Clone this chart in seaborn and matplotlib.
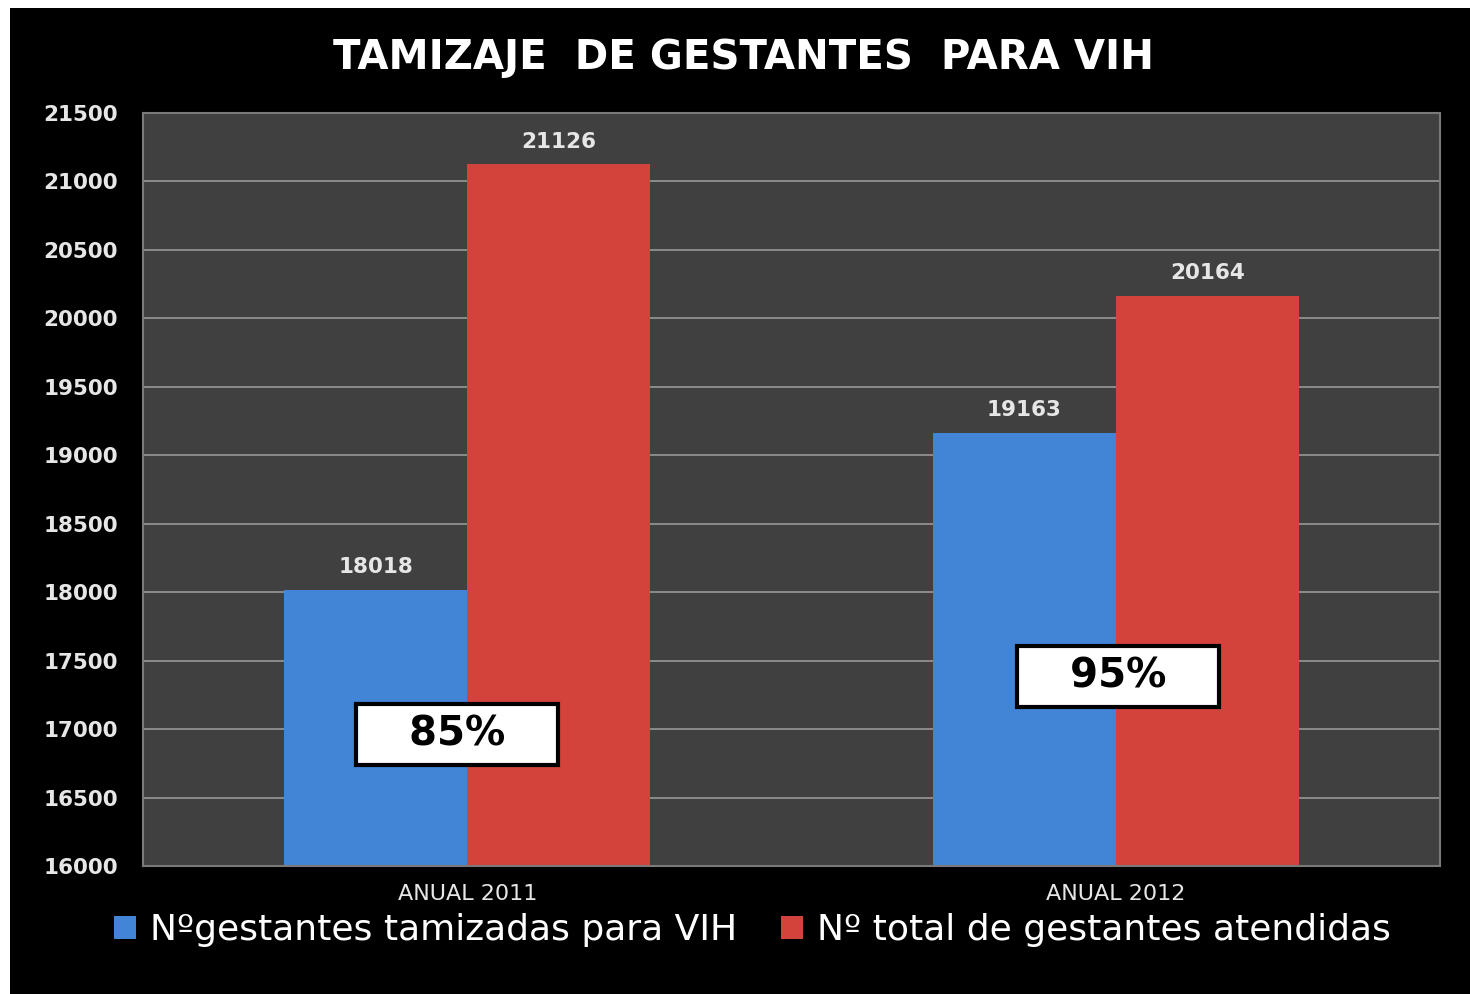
import matplotlib
matplotlib.use("Agg")
import matplotlib.pyplot as plt
from matplotlib.patches import Rectangle
import seaborn as sns
import pandas as pd

categories = ["ANUAL 2011", "ANUAL 2012"]
series_names = ["Nºgestantes tamizadas para VIH", "Nº total de gestantes atendidas"]
tamizadas = [18018, 19163]
atendidas = [21126, 20164]
percent_labels = ["85%", "95%"]
percent_x = [-0.016, 1.003]
percent_y = [16960, 17385]
y_ticks = [16000, 16500, 17000, 17500, 18000, 18500, 19000, 19500, 20000, 20500, 21000, 21500]

colors = ["#4284D6", "#D4423C"]

df = pd.DataFrame({
    "cat": categories * 2,
    "serie": [series_names[0]] * 2 + [series_names[1]] * 2,
    "val": tamizadas + atendidas,
})

sns.set_theme(style="dark")
plt.rcParams['font.family'] = ['DejaVu Sans']

fig = plt.figure(figsize=(14.7, 9.94), dpi=100, facecolor="black")
ax = fig.add_axes([143 / 1470, 1 - 866 / 994, (1440 - 143) / 1470, (866 - 113) / 994])
ax.set_facecolor("#404040")

sns.barplot(data=df, x="cat", y="val", hue="serie", palette=colors, saturation=1,
            width=0.565, ax=ax, legend=False, edgecolor="none")

ax.set_ylim(16000, 21500)
ax.set_xlim(-0.5, 1.5)
ax.set_yticks(y_ticks)
ax.set_yticklabels([str(t) for t in y_ticks], fontsize=15.5,
                   fontweight="bold", color="#E6E6E6")
ax.yaxis.grid(True, color="#8C8C8C", linewidth=1.4)
ax.xaxis.grid(False)
ax.set_axisbelow(True)
ax.tick_params(axis="y", length=0, pad=18)
ax.tick_params(axis="x", length=0, pad=13)
for lab in ax.get_xticklabels():
    lab.set_color("#E6E6E6")
    lab.set_fontsize(16)
ax.set_xlabel("")
ax.set_ylabel("")
for s in ax.spines.values():
    s.set_color("#7A7A7A")
    s.set_linewidth(1.5)

for cont in ax.containers:
    ax.bar_label(cont, padding=9, color="#E6E6E6", fontsize=15.5, fontweight="bold")

for x, yv, txt in zip(percent_x, percent_y, percent_labels):
    ax.text(x, yv, "   " + txt + "   ", ha="center", va="center", fontsize=29,
            fontweight="bold", color="black",
            bbox=dict(boxstyle="square,pad=0.27", facecolor="white", edgecolor="black",
                      linewidth=3))

fig.text(0.506, 1 - 58 / 994, "TAMIZAJE  DE GESTANTES  PARA VIH", ha="center", va="center",
         fontsize=29, fontweight="bold", color="white")

handles = [Rectangle((0, 0), 1, 1, facecolor=c, edgecolor="none") for c in colors]
leg = fig.legend(handles, series_names, loc="center", bbox_to_anchor=(0.512, 1 - 930 / 994),
                 ncol=2, frameon=False, fontsize=26, handlelength=0.6, handleheight=0.6,
                 handletextpad=0.4, columnspacing=1.2)
for t in leg.get_texts():
    t.set_color("white")

# white strips from the screenshot edges
fig.add_artist(Rectangle((0, 1 - 8 / 994), 1, 8 / 994, transform=fig.transFigure,
                         facecolor="white", edgecolor="none"))
fig.add_artist(Rectangle((0, 0), 10 / 1470, 1, transform=fig.transFigure,
                         facecolor="white", edgecolor="none"))

fig.savefig("out.png", dpi=100, facecolor="black")
